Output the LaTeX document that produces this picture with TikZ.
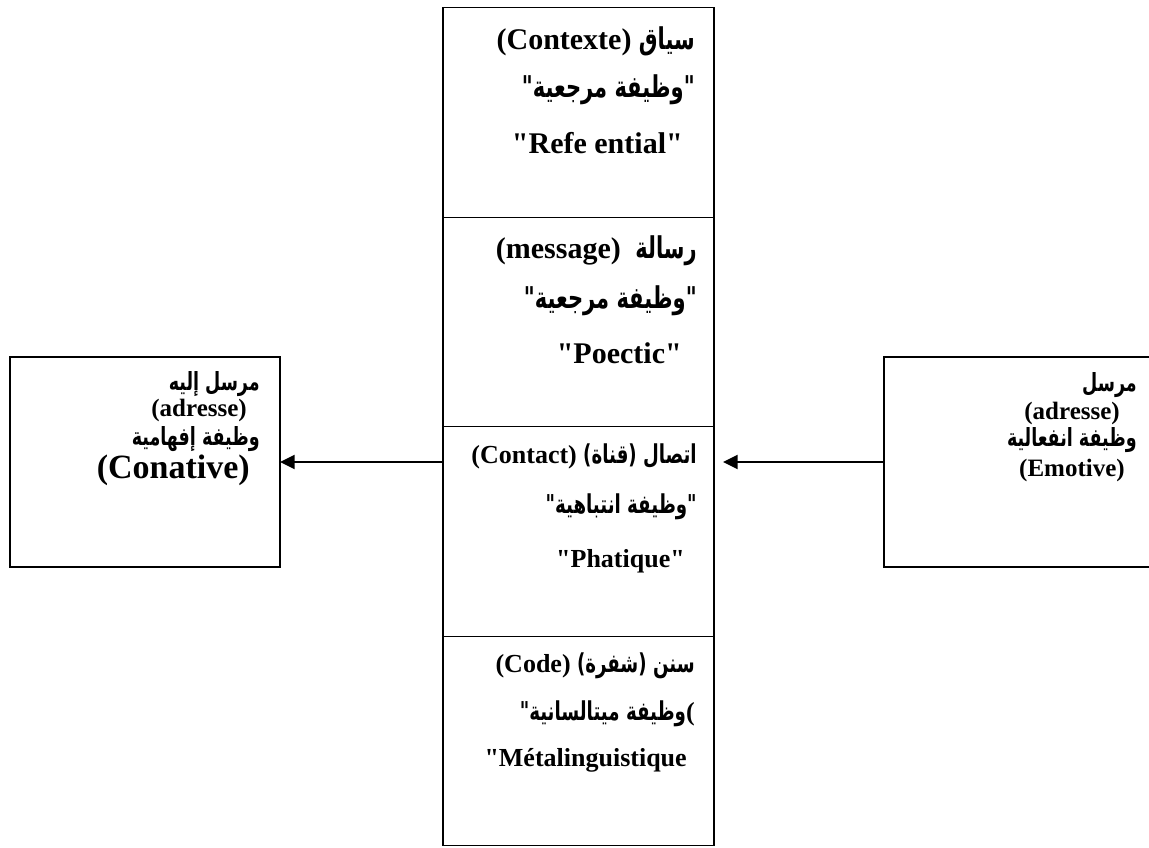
\documentclass[tikz,border=0pt]{standalone}
\usepackage{fontspec}
\setmainfont{Liberation Serif}[Ligatures=TeXOff]
\newfontfamily\arabicfont[Script=Arabic, FakeStretch=0.7]{DejaVu Sans}
\TeXXeTstate=1
\usetikzlibrary{positioning, arrows.meta, calc}
\newcommand\ltr[1]{\beginL{\rmfamily #1}\endL}

\begin{document}
\begin{tikzpicture}[x=0.75pt, y=-0.75pt,
	cell/.style={draw, line width=1pt, minimum width=203.25pt, minimum height=157.1pt, inner sep=0pt, outer sep=0pt},
	side/.style={draw, line width=1pt, minimum height=157.5pt, inner sep=0pt, outer sep=0pt},
	txt/.style={anchor=east, inner sep=0pt},
	big/.style={txt, font=\fontsize{22.5}{27}\selectfont\bfseries},
	mid/.style={txt, font=\fontsize{19.5}{23}\selectfont\bfseries},
	sml/.style={txt, font=\fontsize{18.75}{22}\selectfont\bfseries},
	arr/.style={line width=1.5pt, -{Triangle[length=11pt,width=10.5pt]}}]
	\clip (0,0) rectangle (1149,848);
	
	% central column
	\node[cell] (context) at (578.5,112.5) {};
	\node[cell, below=0pt of context] (message) {};
	\node[cell, below=0pt of message] (contact) {};
	\node[cell, below=0pt of contact] (code) {};
	
	% side boxes
	\node[side, minimum width=202.5pt] (receiver) at (145,462) {};
	\node[side, minimum width=207pt] (sender) at (1022,462) {};
	
	\draw[arr] (contact.west |- receiver.east) -- (receiver.east);
	\draw[arr, shorten >=6.75pt] (sender.west) -- (contact.east |- sender.west);
	
	% texts
	\node[big] (ctxa) at (695,41) {\arabicfont\beginR سياق \ltr{(Contexte)}\endR};
	\node[big] (ctxb) at (695,90) {\arabicfont\beginR"وظيفة مرجعية"\endR};
	\node[big] (ctxc) at (683,143) {"Refe ential"};
	
	\node[big] (msga) at (697,251) {\arabicfont\beginR رسالة \ \ltr{(message)}\endR};
	\node[big] (msgb) at (697,301) {\arabicfont\beginR"وظيفة مرجعية"\endR};
	\node[big] (msgc) at (682,353) {"Poectic"};
	
	\node[mid] (cnta) at (697,456) {\arabicfont\beginR اتصال (قناة) \ltr{(Contact)}\endR};
	\node[mid] (cntb) at (697,507) {\arabicfont\beginR"وظيفة انتباهية"\endR};
	\node[mid] (cntc) at (685,561) {"Phatique"};
	
	\node[mid] (coda) at (695,666) {\arabicfont\beginR سنن (شفرة) \ltr{(Code)}\endR};
	\node[mid] (codb) at (695,714) {\arabicfont\beginR\ltr{(}وظيفة ميتالسانية"\endR};
	\node[mid] (codc) at (687,760) {"Métalinguistique};
	
	\node[sml] (rcva) at (260,384) {\arabicfont\beginR مرسل إليه\endR};
	\node[sml] (rcvb) at (247,410) {(adresse)};
	\node[sml] (rcvc) at (260,439) {\arabicfont\beginR وظيفة إفهامية\endR};
	\node[txt, font=\fontsize{25.5}{30}\selectfont\bfseries] (rcvd) at (250,470) {(Conative)};
	
	\node[sml] (snda) at (1137,385) {\arabicfont\beginR مرسل\endR};
	\node[sml] (sndb) at (1120,413) {(adresse)};
	\node[sml] (sndc) at (1137,440) {\arabicfont\beginR وظيفة انفعالية\endR};
	\node[sml] (sndd) at (1125,470) {(Emotive)};
\end{tikzpicture}
\end{document}
